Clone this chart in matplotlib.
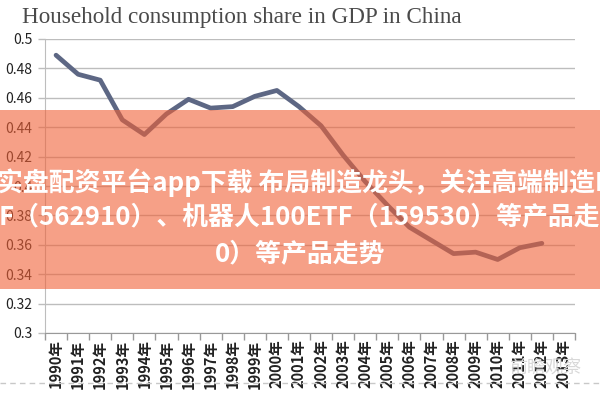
import matplotlib
matplotlib.use("Agg")
import matplotlib.pyplot as plt
from matplotlib.patches import Rectangle
from matplotlib.lines import Line2D

years = [f"{y}年" for y in range(1990, 2014)]
share = [0.489, 0.476, 0.472, 0.445, 0.435, 0.449, 0.459, 0.453, 0.454, 0.461,
         0.465, 0.454, 0.441, 0.421, 0.403, 0.387, 0.372, 0.363, 0.354, 0.355,
         0.350, 0.358, 0.361]
yticks = [0.3, 0.32, 0.34, 0.36, 0.38, 0.4, 0.42, 0.44, 0.46, 0.48, 0.5]
ytick_labels = ["0.3", "0.32", "0.34", "0.36", "0.38", "0.4", "0.42", "0.44", "0.46", "0.48", "0.5"]
title = "Household consumption share in GDP in China"
overlay_lines = ["实盘配资平台app下载 布局制造龙头，关注高端制造ETF",
                 "F（562910）、机器人100ETF（159530）等产品走势",
                 "0）等产品走势"]

plt.rcParams['font.family'] = ['Noto Sans CJK SC', 'DejaVu Sans']

W, H = 600, 400
fig = plt.figure(figsize=(6, 4), dpi=100)
fig.patch.set_facecolor("white")

def fx(px):
    return px / W

def fy(py):
    return 1 - py / H

ax = fig.add_axes([fx(45), fy(333), fx(575) - fx(45), fy(39) - fy(333)])
x = list(range(len(share)))
ax.plot(x, share, color="#5d6784", lw=3.4, solid_capstyle="round", solid_joinstyle="round", zorder=3)
ax.set_xlim(-0.5, len(years) - 0.5)
ax.set_ylim(0.3, 0.5)
ax.set_yticks(yticks)
ax.set_yticklabels(ytick_labels)
ax.yaxis.grid(True, color="#bdbdbd", lw=1.0)
ax.set_axisbelow(True)
ax.set_xticks([])
ax.set_xticks([i - 0.5 for i in range(len(years) + 1)], minor=True)
ax.tick_params(axis="x", which="minor", length=5, color="#999999", width=1)
ax.tick_params(axis="y", length=5, color="#bdbdbd", width=1, labelsize=10,
               labelcolor="#222222", pad=4)
for s in ["top", "right"]:
    ax.spines[s].set_visible(False)
ax.spines["left"].set_color("#bdbdbd")
ax.spines["bottom"].set_color("#999999")

for i, lab in enumerate(years):
    ax.text(i, -0.022, lab, transform=ax.get_xaxis_transform(), rotation=90,
            ha="center", va="top", fontsize=10.5, fontweight="bold", color="#222222")

fig.text(fx(22), fy(17), title, family="Liberation Serif", fontsize=16.7,
         color="#4a4a4a", ha="left", va="center")

# dashed separator
fig.add_artist(Line2D([0, 1], [fy(383), fy(383)], transform=fig.transFigure,
                      color="#c8c8c8", lw=1, ls=(0, (4, 3))))

# watermark
fig.text(fx(545), fy(368), "前瞻观察", fontsize=13, color="#d8d8d8",
         ha="center", va="center", zorder=5)

# overlay band
band = Rectangle((0, fy(289)), 1, fy(110) - fy(289), transform=fig.transFigure,
                 facecolor=(240/255, 97/255, 55/255), alpha=0.6, edgecolor="none", zorder=10)
fig.add_artist(band)

fig.text(fx(-3), fy(183), overlay_lines[0], fontsize=18.6, fontweight="bold",
         color="white", ha="left", va="center", zorder=11)
fig.text(fx(-1), fy(218), overlay_lines[1], fontsize=18.6, fontweight="bold",
         color="white", ha="left", va="center", zorder=11)
fig.text(fx(300), fy(255), overlay_lines[2], fontsize=18.6, fontweight="bold",
         color="white", ha="center", va="center", zorder=11)

fig.savefig("out.png", dpi=100)
